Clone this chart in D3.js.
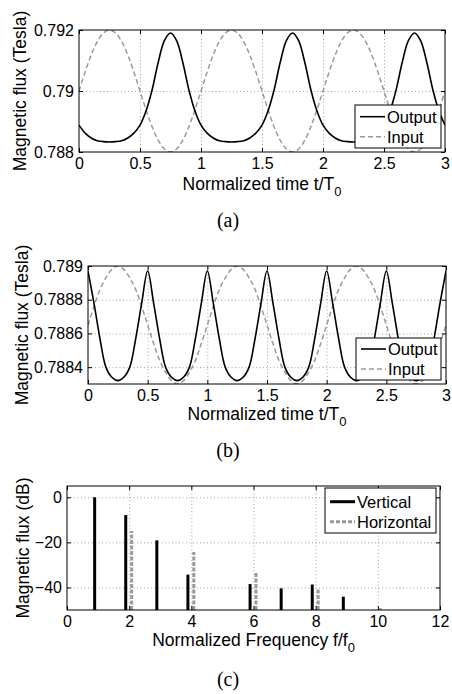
<!DOCTYPE html>
<html>
<head>
<meta charset="utf-8">
<script src="https://cdn.jsdelivr.net/npm/d3@7"></script>
<style>
  body { margin: 0; background: #fff; }
  svg { display: block; font-family: "Liberation Sans", Arial, Helvetica, sans-serif; }
  .tick text { font-family: "Liberation Sans", Arial, Helvetica, sans-serif; font-size: 16px; fill: #000; }
  .axis-label { font-size: 17.5px; }
  .legend-text { font-size: 16.5px; }
  .caption { font-family: "Liberation Serif", "Times New Roman", serif; font-size: 20px; }
</style>
</head>
<body>
<div id="chart"></div>
<script>
// ---- data ----
// sample instants t/T0 for panels (a) and (b)
const sampleTimes = d3.range(0, 3.001, 0.05);

const outputA = [
  0.78888, 0.78862, 0.78846, 0.78837, 0.78834, 0.78833, 0.78834, 0.78837, 0.78846, 0.78862,
  0.78888, 0.78935, 0.79005, 0.79095, 0.79165, 0.79190, 0.79165, 0.79095, 0.79005, 0.78935,
  0.78888, 0.78862, 0.78846, 0.78837, 0.78834, 0.78833, 0.78834, 0.78837, 0.78846, 0.78862,
  0.78888, 0.78935, 0.79005, 0.79095, 0.79165, 0.79190, 0.79165, 0.79095, 0.79005, 0.78935,
  0.78888, 0.78862, 0.78846, 0.78837, 0.78834, 0.78833, 0.78834, 0.78837, 0.78846, 0.78862,
  0.78888, 0.78935, 0.79005, 0.79095, 0.79165, 0.79190, 0.79165, 0.79095, 0.79005, 0.78935,
  0.78888
];
const inputA = [
  0.79000, 0.79062, 0.79118, 0.79162, 0.79190, 0.79200, 0.79190, 0.79162, 0.79118, 0.79062,
  0.79000, 0.78938, 0.78882, 0.78838, 0.78810, 0.78800, 0.78810, 0.78838, 0.78882, 0.78938,
  0.79000, 0.79062, 0.79118, 0.79162, 0.79190, 0.79200, 0.79190, 0.79162, 0.79118, 0.79062,
  0.79000, 0.78938, 0.78882, 0.78838, 0.78810, 0.78800, 0.78810, 0.78838, 0.78882, 0.78938,
  0.79000, 0.79062, 0.79118, 0.79162, 0.79190, 0.79200, 0.79190, 0.79162, 0.79118, 0.79062,
  0.79000, 0.78938, 0.78882, 0.78838, 0.78810, 0.78800, 0.78810, 0.78838, 0.78882, 0.78938,
  0.79000
];
const outputB = [
  0.78897, 0.78878, 0.78857, 0.78840, 0.78834, 0.78832, 0.78834, 0.78840, 0.78857, 0.78878,
  0.78897, 0.78878, 0.78857, 0.78840, 0.78834, 0.78832, 0.78834, 0.78840, 0.78857, 0.78878,
  0.78897, 0.78878, 0.78857, 0.78840, 0.78834, 0.78832, 0.78834, 0.78840, 0.78857, 0.78878,
  0.78897, 0.78878, 0.78857, 0.78840, 0.78834, 0.78832, 0.78834, 0.78840, 0.78857, 0.78878,
  0.78897, 0.78878, 0.78857, 0.78840, 0.78834, 0.78832, 0.78834, 0.78840, 0.78857, 0.78878,
  0.78897, 0.78878, 0.78857, 0.78840, 0.78834, 0.78832, 0.78834, 0.78840, 0.78857, 0.78878,
  0.78897
];
const inputB = [
  0.78865, 0.78876, 0.78886, 0.78893, 0.78898, 0.78900, 0.78898, 0.78893, 0.78886, 0.78876,
  0.78865, 0.78854, 0.78844, 0.78837, 0.78832, 0.78830, 0.78832, 0.78837, 0.78844, 0.78854,
  0.78865, 0.78876, 0.78886, 0.78893, 0.78898, 0.78900, 0.78898, 0.78893, 0.78886, 0.78876,
  0.78865, 0.78854, 0.78844, 0.78837, 0.78832, 0.78830, 0.78832, 0.78837, 0.78844, 0.78854,
  0.78865, 0.78876, 0.78886, 0.78893, 0.78898, 0.78900, 0.78898, 0.78893, 0.78886, 0.78876,
  0.78865, 0.78854, 0.78844, 0.78837, 0.78832, 0.78830, 0.78832, 0.78837, 0.78844, 0.78854,
  0.78865
];

// panel (c) spectrum, harmonics of f0
const verticalFreq = [1, 2, 3, 4, 6, 7, 8, 9];
const verticalDb = [0, -7.9, -19.1, -34.3, -38.5, -40.4, -38.7, -44.1];
const horizontalFreq = [2, 4, 6, 8, 10];
const horizontalDb = [-15.0, -24.3, -33.1, -40.4, -49.2];

// ticks
const timeTicks = [0, 0.5, 1, 1.5, 2, 2.5, 3];
const timeTickLabels = ['0', '0.5', '1', '1.5', '2', '2.5', '3'];
const fluxTicksA = [0.788, 0.790, 0.792];
const fluxTickLabelsA = ['0.788', '0.79', '0.792'];
const fluxTicksB = [0.7884, 0.7886, 0.7888, 0.789];
const fluxTickLabelsB = ['0.7884', '0.7886', '0.7888', '0.789'];
const freqTicks = [0, 2, 4, 6, 8, 10, 12];
const freqTickLabels = ['0', '2', '4', '6', '8', '10', '12'];
const dbTicks = [-40, -20, 0];
const dbTickLabels = ['\u221240', '\u221220', '0'];

const W = 452, H = 694;
const gray = '#9a9a9a';

const svg = d3.select('#chart').append('svg')
    .attr('width', W)
    .attr('height', H)
    .style('background', '#fff');

// dotted grid and clip area for one panel
function drawFrame(p) {
    const x = d3.scaleLinear().domain(p.xDomain).range([p.left, p.right]);
    const y = d3.scaleLinear().domain(p.yDomain).range([p.bottom, p.top]);
    const g = svg.append('g');
    const innerX = p.xTicks.filter(d => d > p.xDomain[0] && d < p.xDomain[1]);
    const innerY = p.yTicks.filter(d => d > p.yDomain[0] && d < p.yDomain[1]);

    g.append('g')
        .attr('transform', `translate(0,${p.bottom})`)
        .call(d3.axisBottom(x).tickValues(innerX).tickSize(-(p.bottom - p.top)).tickFormat(''))
        .call(s => s.select('.domain').remove());
    g.append('g')
        .attr('transform', `translate(${p.left},0)`)
        .call(d3.axisLeft(y).tickValues(innerY).tickSize(-(p.right - p.left)).tickFormat(''))
        .call(s => s.select('.domain').remove());
    g.selectAll('.tick line')
        .attr('stroke', '#8c8c8c')
        .attr('stroke-width', 0.8)
        .attr('stroke-dasharray', '1,2.5');

    const clipId = 'clip' + p.name;
    svg.append('clipPath').attr('id', clipId)
        .append('rect')
        .attr('x', p.left).attr('y', p.top)
        .attr('width', p.right - p.left).attr('height', p.bottom - p.top);

    const plot = svg.append('g').attr('clip-path', `url(#${clipId})`);
    return { x, y, plot };
}

// inward ticks on all four sides, box, labels, caption
function drawAxes(p, x, y) {
    const g = svg.append('g');
    const tick = 4;
    g.append('g')
        .attr('transform', `translate(0,${p.bottom})`)
        .call(d3.axisBottom(x).tickValues(p.xTicks)
            .tickFormat((d, i) => p.xTickLabels[i])
            .tickSizeInner(-tick).tickSizeOuter(0).tickPadding(6));
    g.append('g')
        .attr('transform', `translate(0,${p.top})`)
        .call(d3.axisTop(x).tickValues(p.xTicks).tickFormat('')
            .tickSizeInner(-tick).tickSizeOuter(0));
    g.append('g')
        .attr('transform', `translate(${p.left},0)`)
        .call(d3.axisLeft(y).tickValues(p.yTicks)
            .tickFormat((d, i) => p.yTickLabels[i])
            .tickSizeInner(-tick).tickSizeOuter(0).tickPadding(5));
    g.append('g')
        .attr('transform', `translate(${p.right},0)`)
        .call(d3.axisRight(y).tickValues(p.yTicks).tickFormat('')
            .tickSizeInner(-tick).tickSizeOuter(0));
    g.selectAll('.domain').remove();
    g.selectAll('g').attr('font-family', null).attr('font-size', null);
    g.selectAll('.tick line').attr('stroke', '#000').attr('stroke-width', 1);

    g.append('rect')
        .attr('x', p.left).attr('y', p.top)
        .attr('width', p.right - p.left).attr('height', p.bottom - p.top)
        .attr('fill', 'none').attr('stroke', '#000').attr('stroke-width', 1);

    g.append('text')
        .attr('class', 'axis-label')
        .attr('transform', `translate(${p.yLabelX},${(p.top + p.bottom) / 2}) rotate(-90)`)
        .attr('text-anchor', 'middle')
        .attr('dy', '0.35em')
        .text(p.yLabel);

    const xl = g.append('text')
        .attr('class', 'axis-label')
        .attr('x', (p.left + p.right) / 2)
        .attr('y', p.xLabelY)
        .attr('text-anchor', 'middle');
    xl.append('tspan').text(p.xLabel);
    xl.append('tspan').attr('dy', 6).attr('font-size', '13px').text('0');

    g.append('text')
        .attr('class', 'caption')
        .attr('x', p.captionX)
        .attr('y', p.captionY)
        .attr('text-anchor', 'middle')
        .text(p.caption);
}

function drawLegend(x0, y0, w, h, rows, items) {
    const g = svg.append('g');
    g.append('rect')
        .attr('x', x0).attr('y', y0).attr('width', w).attr('height', h)
        .attr('fill', '#fff').attr('stroke', '#000').attr('stroke-width', 1);
    items.forEach((it, i) => {
        const cy = y0 + rows[i];
        g.append('line')
            .attr('x1', x0 + 5).attr('x2', x0 + 30)
            .attr('y1', cy).attr('y2', cy)
            .attr('stroke', it.stroke)
            .attr('stroke-width', it.width)
            .attr('stroke-dasharray', it.dash);
        g.append('text')
            .attr('class', 'legend-text')
            .attr('x', x0 + 32).attr('y', cy)
            .attr('dy', '0.36em')
            .text(it.label);
    });
}

function linePanel(p, output, input) {
    const { x, y, plot } = drawFrame(p);
    const line = d3.line()
        .x((d, i) => x(sampleTimes[i]))
        .y(d => y(d))
        .curve(d3.curveCatmullRom);
    plot.append('path')
        .datum(input)
        .attr('d', line)
        .attr('fill', 'none')
        .attr('stroke', gray)
        .attr('stroke-width', 1.5)
        .attr('stroke-dasharray', '5,3');
    plot.append('path')
        .datum(output)
        .attr('d', line)
        .attr('fill', 'none')
        .attr('stroke', '#000')
        .attr('stroke-width', 1.6);
    drawAxes(p, x, y);
}

// ---- panel (a) ----
const panelA = {
    name: 'a', left: 79, right: 445, top: 30, bottom: 152,
    xDomain: [0, 3], yDomain: [0.788, 0.792],
    xTicks: timeTicks, xTickLabels: timeTickLabels,
    yTicks: fluxTicksA, yTickLabels: fluxTickLabelsA,
    yLabel: 'Magnetic flux (Tesla)', yLabelX: 20,
    xLabel: 'Normalized time t/T', xLabelY: 190,
    caption: '(a)', captionX: 228, captionY: 227
};
linePanel(panelA, outputA, inputA);
drawLegend(355, 105, 86, 43, [11.7, 31.7], [
    { label: 'Output', stroke: '#000', width: 1.6, dash: null },
    { label: 'Input', stroke: gray, width: 1.5, dash: '5,3' }
]);

// ---- panel (b) ----
const panelB = {
    name: 'b', left: 88, right: 446, top: 266, bottom: 384,
    xDomain: [0, 3], yDomain: [0.7883, 0.789],
    xTicks: timeTicks, xTickLabels: timeTickLabels,
    yTicks: fluxTicksB, yTickLabels: fluxTickLabelsB,
    yLabel: 'Magnetic flux (Tesla)', yLabelX: 22,
    xLabel: 'Normalized time t/T', xLabelY: 420,
    caption: '(b)', captionX: 228, captionY: 457
};
linePanel(panelB, outputB, inputB);
drawLegend(356, 338, 85, 42, [11, 31], [
    { label: 'Output', stroke: '#000', width: 1.6, dash: null },
    { label: 'Input', stroke: gray, width: 1.5, dash: '5,3' }
]);

// ---- panel (c) ----
const panelC = {
    name: 'c', left: 67, right: 440, top: 486, bottom: 610,
    xDomain: [0, 12], yDomain: [-50, 5],
    xTicks: freqTicks, xTickLabels: freqTickLabels,
    yTicks: dbTicks, yTickLabels: dbTickLabels,
    yLabel: 'Magnetic flux (dB)', yLabelX: 23,
    xLabel: 'Normalized Frequency f/f', xLabelY: 646,
    caption: '(c)', captionX: 228, captionY: 686
};
(function () {
    const { x, y, plot } = drawFrame(panelC);
    plot.selectAll('line.vert')
        .data(verticalFreq)
        .join('line')
        .attr('class', 'vert')
        .attr('x1', d => x(d - 0.11)).attr('x2', d => x(d - 0.11))
        .attr('y1', y(-50)).attr('y2', (d, i) => y(verticalDb[i]))
        .attr('stroke', '#000').attr('stroke-width', 3);
    plot.selectAll('line.horiz')
        .data(horizontalFreq)
        .join('line')
        .attr('class', 'horiz')
        .attr('x1', d => x(d + 0.08)).attr('x2', d => x(d + 0.08))
        .attr('y1', y(-50)).attr('y2', (d, i) => y(horizontalDb[i]))
        .attr('stroke', gray).attr('stroke-width', 3)
        .attr('stroke-dasharray', '4,1.5');
    drawAxes(panelC, x, y);
})();
drawLegend(325, 488, 111, 45, [13.7, 33.7], [
    { label: 'Vertical', stroke: '#000', width: 3, dash: null },
    { label: 'Horizontal', stroke: gray, width: 3, dash: '4,2' }
]);
</script>
</body>
</html>
